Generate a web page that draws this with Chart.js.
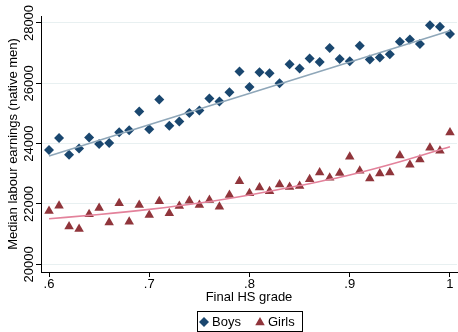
<!DOCTYPE html>
<html>
<head>
<meta charset="utf-8">
<script src="https://cdn.jsdelivr.net/npm/chart.js@4/dist/chart.umd.min.js"></script>
<style>
  html, body { margin: 0; padding: 0; background: #fff; }
  #chart { display: block; }
</style>
</head>
<body>
<canvas id="chart" width="458" height="332"></canvas>
<script>
// Final HS grade (x), one point per percentile
const grades = [0.60, 0.61, 0.62, 0.63, 0.64, 0.65, 0.66, 0.67, 0.68, 0.69,
                0.70, 0.71, 0.72, 0.73, 0.74, 0.75, 0.76, 0.77, 0.78, 0.79,
                0.80, 0.81, 0.82, 0.83, 0.84, 0.85, 0.86, 0.87, 0.88, 0.89,
                0.90, 0.91, 0.92, 0.93, 0.94, 0.95, 0.96, 0.97, 0.98, 0.99, 1.00];

const boys = [23790, 24190, 23633, 23843, 24200, 23990, 24023, 24377, 24443, 25067,
              24477, 25467, 24590, 24733, 25020, 25100, 25500, 25400, 25700, 26390,
              25877, 26367, 26333, 26000, 26633, 26490, 26823, 26710, 27170, 26810,
              26733, 27243, 26790, 26857, 26967, 27377, 27457, 27300, 27923, 27877, 27633];

const girls = [21767, 21943, 21257, 21167, 21657, 21867, 21390, 22023, 21410, 21967,
               21633, 22090, 21690, 21933, 22105, 21967, 22133, 21910, 22300, 22757,
               22357, 22543, 22423, 22643, 22567, 22600, 22823, 23043, 22867, 23023,
               23567, 23100, 22843, 23010, 23043, 23610, 23300, 23477, 23867, 23767, 24367];

// fitted lines
const boysFitX = [0.6, 1.0];
const boysFit = [23590, 27740];
const girlsFitX = [0.60, 0.65, 0.70, 0.75, 0.80, 0.85, 0.90, 0.95, 1.00];
const girlsFit = [21510, 21650, 21820, 22030, 22300, 22610, 22960, 23400, 23900];

const xTicks = [0.6, 0.7, 0.8, 0.9, 1.0];
const xTickLabels = ['.6', '.7', '.8', '.9', '1'];
const yTicks = [20000, 22000, 24000, 26000, 28000];
const seriesNames = ['Boys', 'Girls'];

const BOYS_COLOR = '#1a476f';
const GIRLS_COLOR = '#90353b';
const FONT = '"Liberation Sans", Arial, Helvetica, sans-serif';

Chart.defaults.font.family = FONT;
Chart.defaults.font.size = 13;
Chart.defaults.color = '#000';

const toPoints = (xs, ys) => xs.map((x, i) => ({ x: x, y: ys[i] }));

// tick labels (y ones rotated, Stata style) and the boxed legend
const extras = {
    id: 'extras',
    afterDraw(chart) {
        const ctx = chart.ctx;
        const xScale = chart.scales.x;
        const yScale = chart.scales.y;
        ctx.save();
        ctx.font = '13px ' + FONT;
        ctx.fillStyle = '#000';
        ctx.textAlign = 'center';
        ctx.textBaseline = 'middle';
        yTicks.forEach(v => {
            ctx.save();
            ctx.translate(29, yScale.getPixelForValue(v));
            ctx.rotate(-Math.PI / 2);
            ctx.fillText(String(v), 0, 0);
            ctx.restore();
        });
        xTicks.forEach((v, i) => {
            ctx.fillText(xTickLabels[i], xScale.getPixelForValue(v), 284);
        });

        // legend box
        ctx.strokeStyle = '#000';
        ctx.lineWidth = 1;
        ctx.strokeRect(197.5, 311.5, 105, 20);
        const markers = [
            { style: 'rectRot', color: BOYS_COLOR, r: 5, x: 204, y: 322 },
            { style: 'triangle', color: GIRLS_COLOR, r: 5.5, x: 260, y: 322.5 }
        ];
        ctx.textAlign = 'left';
        markers.forEach((m, i) => {
            ctx.fillStyle = m.color;
            ctx.strokeStyle = m.color;
            Chart.helpers.drawPoint(ctx, { pointStyle: m.style, radius: m.r, borderWidth: 0 }, m.x, m.y);
            ctx.fillStyle = '#000';
            ctx.fillText(seriesNames[i], m.x + 8, 322);
        });
        ctx.restore();
    }
};

new Chart(document.getElementById('chart').getContext('2d'), {
    type: 'scatter',
    data: {
        datasets: [
            {
                label: 'Boys fit',
                type: 'line',
                data: toPoints(boysFitX, boysFit),
                borderColor: '#8fa7b9',
                borderWidth: 1.6,
                pointRadius: 0,
                fill: false,
                order: 0
            },
            {
                label: 'Girls fit',
                type: 'line',
                data: toPoints(girlsFitX, girlsFit),
                borderColor: '#e3829b',
                borderWidth: 1.6,
                pointRadius: 0,
                fill: false,
                cubicInterpolationMode: 'monotone',
                order: 0
            },
            {
                label: seriesNames[0],
                data: toPoints(grades, boys),
                pointStyle: 'rectRot',
                pointRadius: 5,
                pointBorderWidth: 0,
                backgroundColor: BOYS_COLOR,
                borderColor: BOYS_COLOR,
                order: 1
            },
            {
                label: seriesNames[1],
                data: toPoints(grades, girls),
                pointStyle: 'triangle',
                pointRadius: 5.5,
                pointBorderWidth: 0,
                backgroundColor: GIRLS_COLOR,
                borderColor: GIRLS_COLOR,
                order: 1
            }
        ]
    },
    options: {
        responsive: false,
        animation: false,
        events: [],
        layout: { autoPadding: false, padding: { top: 16, right: 1, left: 0, bottom: 0 } },
        scales: {
            x: {
                type: 'linear',
                min: 0.592,
                max: 1.007,
                afterBuildTicks: (scale) => { scale.ticks = xTicks.map(v => ({ value: v })); },
                afterFit: (scale) => { scale.height = 60; },
                grid: { drawOnChartArea: false, drawTicks: true, tickLength: 5, tickColor: '#000' },
                border: { display: true, color: '#000', width: 1 },
                ticks: { display: false },
                title: { display: true, text: 'Final HS grade', padding: { top: 0, bottom: 27 } }
            },
            y: {
                type: 'linear',
                min: 19745,
                max: 28232,
                afterBuildTicks: (scale) => { scale.ticks = yTicks.map(v => ({ value: v })); },
                afterFit: (scale) => { scale.width = 41; },
                grid: { color: '#e8f0f1', lineWidth: 1, drawTicks: true, tickLength: 5, tickColor: '#000' },
                border: { display: true, color: '#000', width: 1 },
                ticks: { display: false },
                title: { display: true, text: 'Median labour earnings (native men)', padding: { top: 6, bottom: 0 } }
            }
        },
        plugins: {
            legend: { display: false },
            tooltip: { enabled: false }
        }
    },
    plugins: [extras]
});
</script>
</body>
</html>
